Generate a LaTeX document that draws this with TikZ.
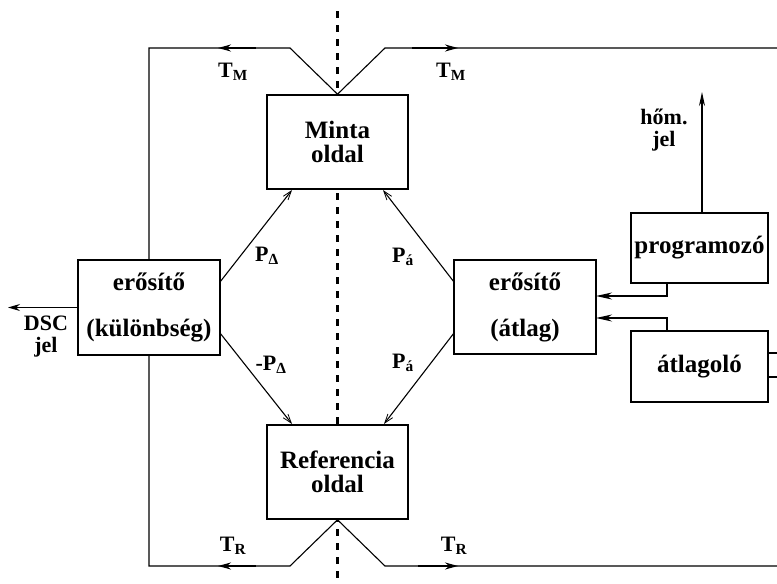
\documentclass[tikz,border=0pt]{standalone}
\usepackage{fontspec}
\setmainfont{Liberation Serif}
\usetikzlibrary{arrows.meta}
\begin{document}
\begin{tikzpicture}[x=1pt,y=-1pt,
  every node/.style={font=\fontsize{25}{24}\selectfont\bfseries},
  box/.style={draw,line width=1.6pt,align=center,inner sep=0pt},
  wire/.style={line width=1.1pt},
  thinarr/.style={wire,-{Straight Barb[length=9pt,width=6pt,line width=0.8pt]}},
  bigarr/.style={line width=1.8pt,-{Stealth[length=13pt,width=7pt]}},
  feedarr/.style={wire,-{Stealth[length=16pt,width=7pt]}},
  lbl/.style={font=\fontsize{22}{22}\selectfont\bfseries,inner sep=0pt},
  sublbl/.style={font=\fontsize{22}{22}\selectfont\bfseries,inner sep=0pt}]
\useasboundingbox (0,0) rectangle (777,584);
% dashed centre line
\coordinate (dtop) at (337.5,11);
\coordinate (dbot) at (337.5,584);
\draw[line width=2.2pt,dash pattern=on 7pt off 7pt] (dtop) -- (dbot);
% boxes
\node[box,fill=white,minimum width=141pt,minimum height=94pt] (minta) at (337.5,142) {Minta\\oldal};
\node[box,fill=white,minimum width=141pt,minimum height=94pt] (ref) at (337.5,472) {Referencia\\oldal};
\node[box,minimum width=142pt,minimum height=95pt] (ekul) at (149,307.5) {erősítő\\[22pt](különbség)};
\node[box,minimum width=142pt,minimum height=94pt] (eatl) at (525,307) {erősítő\\[22pt](átlag)};
\node[box,minimum width=137pt,minimum height=70pt] (prog) at (699.5,248) {programozó};
\node[box,minimum width=137pt,minimum height=71pt] (atlo) at (699.5,366.5) {átlagoló};
% top loop
\coordinate (tl1) at (290,48);
\coordinate (tl2) at (149,48);
\coordinate (tr1) at (385,48);
\coordinate (tr2) at (777,48);
\draw[wire] (minta.north) -- (tl1) -- (tl2) -- (ekul.north);
\draw[wire] (minta.north) -- (tr1) -- (tr2);
\coordinate (atl0) at (256,48); \coordinate (atl1) at (218,48);
\draw[bigarr] (atl0) -- (atl1);
\coordinate (atr0) at (412,48); \coordinate (atr1) at (458,48);
\draw[bigarr] (atr0) -- (atr1);
% bottom loop
\coordinate (bl1) at (290,566);
\coordinate (bl2) at (149,566);
\coordinate (br1) at (385,566);
\coordinate (br2) at (777,566);
\draw[wire] (ref.south) -- (bl1) -- (bl2) -- (ekul.south);
\draw[wire] (ref.south) -- (br1) -- (br2);
\coordinate (abl0) at (256,566); \coordinate (abl1) at (218,566);
\draw[bigarr] (abl0) -- (abl1);
\coordinate (abr0) at (418,566); \coordinate (abr1) at (458,566);
\draw[bigarr] (abr0) -- (abr1);
% diagonals
\coordinate (k1) at (220,282); \coordinate (k2) at (220,333);
\coordinate (a1) at (454,282); \coordinate (a2) at (454,333);
\coordinate (m1) at (292,190); \coordinate (m2) at (383,190);
\coordinate (r1) at (292,424); \coordinate (r2) at (384,424);
\draw[thinarr] (k1) -- (m1);
\draw[thinarr] (k2) -- (r1);
\draw[thinarr] (a1) -- (m2);
\draw[thinarr] (a2) -- (r2);
% labels
\node[lbl] (tm1) at (233,72) {T\textsubscript{M}};
\node[lbl] (tm2) at (451,72) {T\textsubscript{M}};
\node[lbl] (tr1l) at (233,546) {T\textsubscript{R}};
\node[lbl] (tr2l) at (454,546) {T\textsubscript{R}};
\node[sublbl] (pd1) at (267,256) {P\textsubscript{Δ}};
\node[sublbl] (pd2) at (271,365) {-P\textsubscript{Δ}};
\node[sublbl] (pa1) at (403,257) {P\textsubscript{á}};
\node[sublbl] (pa2) at (403,363) {P\textsubscript{á}};
% DSC output
\coordinate (dsc) at (8,307.5);
\draw[wire,-{Stealth[length=12pt,width=7pt]}] (ekul.west) -- (dsc);
\node[lbl,align=center] (dscl) at (46,337) {DSC\\jel};
% hőm. jel output
\coordinate (hom) at (702,92);
\coordinate (progtop) at (702,213);
\draw[wire,line width=1.3pt,-{Stealth[length=14pt,width=6pt]}] (progtop) -- (hom);
\node[lbl,align=center] (homl) at (664,130) {hőm.\\jel};
% feeds into erősítő (átlag)
\coordinate (p1) at (667,283); \coordinate (p2) at (667,296); \coordinate (p3) at (596,296);
\draw[feedarr] (p1) -- (p2) -- (p3);
\coordinate (q1) at (667,331); \coordinate (q2) at (667,318); \coordinate (q3) at (596,318);
\draw[feedarr] (q1) -- (q2) -- (q3);
% átlagoló outputs
\coordinate (o1a) at (768,353); \coordinate (o1b) at (777,353);
\coordinate (o2a) at (768,377); \coordinate (o2b) at (777,377);
\draw[wire] (o1a) -- (o1b);
\draw[wire] (o2a) -- (o2b);
\end{tikzpicture}
\end{document}
